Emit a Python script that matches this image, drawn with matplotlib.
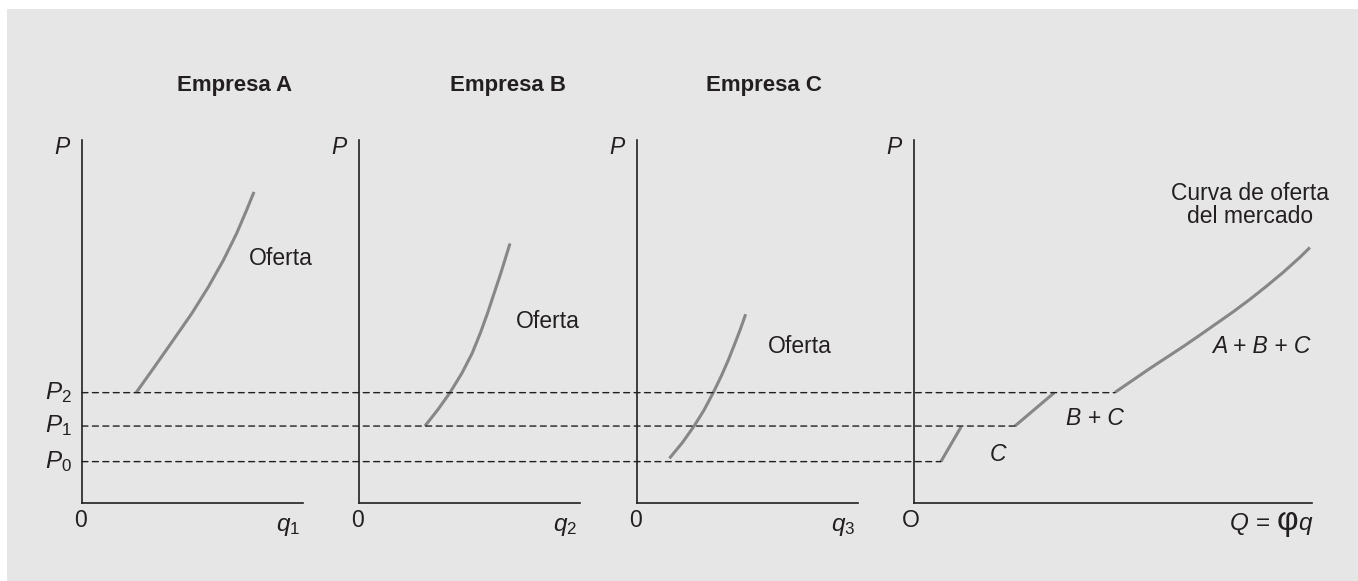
import matplotlib
matplotlib.use("Agg")
import matplotlib.pyplot as plt
from matplotlib.patches import Rectangle, ConnectionPatch

plt.rcParams['font.family'] = ['Liberation Sans', 'DejaVu Sans']
plt.rcParams['mathtext.fontset'] = 'custom'
plt.rcParams['mathtext.rm'] = 'Liberation Sans'
plt.rcParams['mathtext.it'] = 'Liberation Sans:italic'

# price levels P0, P1, P2
precios = [1.14, 2.12, 3.04]
precio_labels = ['$P_0$', '$P_1$', '$P_2$']

# supply curves of each firm (q, P)
qA = [1.47, 1.94, 2.48, 2.98, 3.43, 3.84, 4.20, 4.47, 4.67]
pA = [3.04, 3.71, 4.49, 5.22, 5.95, 6.69, 7.43, 8.07, 8.57]
qB = [1.79, 2.14, 2.47, 2.79, 3.07, 3.29, 3.49, 3.67, 3.85, 4.10]
pB = [2.12, 2.57, 3.04, 3.57, 4.12, 4.67, 5.23, 5.78, 6.33, 7.15]
qC = [0.88, 1.23, 1.55, 1.82, 2.07, 2.29, 2.48, 2.66, 2.80, 2.95]
pC = [1.23, 1.66, 2.12, 2.56, 3.04, 3.50, 3.94, 4.40, 4.77, 5.20]

# market supply, three pieces
q_mC = [0.73, 1.28]
p_mC = [1.14, 2.10]
q_mBC = [2.74, 3.81]
p_mBC = [2.12, 3.04]
q_mABC = [5.46, 5.95, 6.41, 6.86, 7.31, 7.77, 8.22, 8.67, 9.12, 9.58, 10.03, 10.48, 10.75]
p_mABC = [3.05, 3.39, 3.71, 4.01, 4.31, 4.63, 4.95, 5.27, 5.61, 5.98, 6.36, 6.77, 7.04]

titulos = ['Empresa A', 'Empresa B', 'Empresa C']
q_labels = ['$q_1$', '$q_2$', '$q_3$']

W, H = 1358, 581
fig = plt.figure(figsize=(W / 100, H / 100), dpi=100, facecolor='white')
fig.add_artist(Rectangle((7 / W, 0), 1 - 7 / W, 1 - 9 / H, transform=fig.transFigure,
                         facecolor='#e6e6e6', edgecolor='none', zorder=-10))

tinta = '#231f20'
gris = '#878787'
fs = 16.5

# axes rectangles in pixels: left, right
paneles = [(82, 303), (359, 580), (637, 858), (914, 1312)]
y_top, y_bot = 140, 503
escala = 36.83  # px per q unit

axes = []
for (l, r) in paneles:
    ax = fig.add_axes([l / W, (H - y_bot) / H, (r - l) / W, (y_bot - y_top) / H])
    ax.set_xlim(0, (r - l) / escala)
    ax.set_ylim(0, 10)
    ax.set_facecolor('none')
    for s in ['top', 'right']:
        ax.spines[s].set_visible(False)
    for s in ['left', 'bottom']:
        ax.spines[s].set_color(tinta)
        ax.spines[s].set_linewidth(1.2)
    ax.set_xticks([])
    ax.set_yticks([])
    ax.text(-0.30, 9.8, '$P$', ha='right', va='center', fontsize=fs, color=tinta)
    axes.append(ax)

axA, axB, axC, axD = axes

# firm panels
curvas = [(qA, pA), (qB, pB), (qC, pC)]
oferta_pos = [(5.40, 6.56), (5.12, 4.81), (4.43, 4.12)]
titulo_x = [4.13, 4.04, 3.45]
for i, ax in enumerate([axA, axB, axC]):
    q, p = curvas[i]
    ax.plot(q, p, color=gris, lw=2.2, solid_capstyle='butt', solid_joinstyle='round')
    ax.text(oferta_pos[i][0], oferta_pos[i][1], 'Oferta', ha='center', va='baseline',
            fontsize=fs, color=tinta)
    ax.text(titulo_x[i], 11.36, titulos[i], ha='center', va='baseline', fontsize=16,
            fontweight='bold', color=tinta, clip_on=False)
    ax.text(-0.05, -0.48, '0', ha='center', va='center', fontsize=fs, color=tinta)
    ax.text(5.6, -0.65, q_labels[i], ha='center', va='center', fontsize=fs + 1, color=tinta)

# price labels on panel A
for p, lab in zip(precios, precio_labels):
    axA.text(-0.27, p, lab, ha='right', va='center', fontsize=fs + 1, color=tinta)

# market panel
for q, p in [(q_mC, p_mC), (q_mBC, p_mBC), (q_mABC, p_mABC)]:
    axD.plot(q, p, color=gris, lw=2.2, solid_capstyle='butt', solid_joinstyle='round')
axD.text(9.12, 8.35, 'Curva de oferta', ha='center', va='baseline', fontsize=fs, color=tinta)
axD.text(9.12, 7.71, 'del mercado', ha='center', va='baseline', fontsize=fs, color=tinta)
axD.text(9.42, 4.14, 'A + B + C', ha='center', va='baseline', fontsize=fs,
         style='italic', color=tinta)
axD.text(4.91, 2.15, 'B + C', ha='center', va='baseline', fontsize=fs,
         style='italic', color=tinta)
axD.text(2.28, 1.17, 'C', ha='center', va='baseline', fontsize=fs,
         style='italic', color=tinta)
axD.text(-0.1, -0.48, 'O', ha='center', va='center', fontsize=fs, color=tinta)

# Q = phi q, with a larger phi, all on one baseline
y_base = -0.74
t_q = axD.text(10.81, y_base, 'q', ha='right', va='baseline', fontsize=fs + 1,
               style='italic', color=tinta)
t_phi = axD.annotate('φ', xy=(0, y_base), xycoords=(t_q, axD.transData),
                     xytext=(-0.5, 0), textcoords='offset points',
                     ha='right', va='baseline', fontsize=24, color=tinta)
axD.annotate('Q = ', xy=(0, y_base), xycoords=(t_phi, axD.transData),
             ha='right', va='baseline', fontsize=fs + 1, style='italic', color=tinta)

# dashed price lines from panel A to where the market curve pieces start
fin_x = [q_mC[0], q_mBC[0], q_mABC[0]]
for p, xf in zip(precios, fin_x):
    con = ConnectionPatch(xyA=(0, p), coordsA=axA.transData, xyB=(xf, p),
                          coordsB=axD.transData, color=tinta, lw=1.0,
                          linestyle=(0, (4.3, 3.2)), zorder=1)
    fig.add_artist(con)

fig.savefig('out.png', dpi=100, facecolor=fig.get_facecolor())
